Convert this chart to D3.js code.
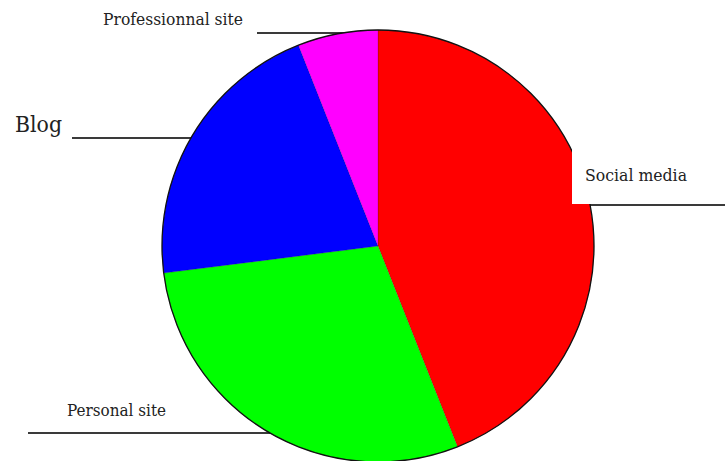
<!DOCTYPE html>
<html>
<head>
<meta charset="utf-8">
<script src="https://cdn.jsdelivr.net/npm/d3@7"></script>
<style>
  html, body { margin: 0; padding: 0; background: #fff; }
  svg { display: block; }
</style>
</head>
<body>
<svg id="chart" width="725" height="461"></svg>
<script>
// Share of sources, clockwise from twelve o'clock
const categories = ["Social media", "Personal site", "Blog", "Professionnal site"];
const shares = [44, 29, 21, 6];
const sliceColors = ["#ff0000", "#00ff00", "#0000ff", "#ff00ff"];

const width = 725, height = 461;
const cx = 378, cy = 246, radius = 216;

const svg = d3.select("#chart");

// Callout placement for each label: text anchor point, text width, font size, leader line
const callouts = {
  "Social media":       { tx: 585, ty: 181, tw: 102, fs: 16, line: [590, 205, 725, 205], mask: [572, 148, 128, 56] },
  "Personal site":      { tx: 67,  ty: 416, tw: 99,  fs: 16, line: [28, 433, 300, 433] },
  "Blog":               { tx: 15,  ty: 132, tw: 47,  fs: 23, line: [72, 138, 230, 138] },
  "Professionnal site": { tx: 103, ty: 25,  tw: 140, fs: 16, line: [257, 33, 378, 33] }
};

const data = categories.map((c, i) => ({ name: c, value: shares[i], color: sliceColors[i] }));

// Leader lines sit behind the pie so that the pie edge clips them
svg.append("g").selectAll("line")
  .data(data)
  .join("line")
  .attr("x1", d => callouts[d.name].line[0])
  .attr("y1", d => callouts[d.name].line[1])
  .attr("x2", d => callouts[d.name].line[2])
  .attr("y2", d => callouts[d.name].line[3])
  .attr("stroke", "#3a3a3a")
  .attr("stroke-width", 2);

const pie = d3.pie().sort(null).value(d => d.value).startAngle(0).endAngle(2 * Math.PI);
const arc = d3.arc().innerRadius(0).outerRadius(radius);

const g = svg.append("g").attr("transform", `translate(${cx},${cy})`);

g.selectAll("path.slice")
  .data(pie(data))
  .join("path")
  .attr("class", "slice")
  .attr("d", arc)
  .attr("fill", d => d.data.color)
  .attr("stroke", "#000")
  .attr("stroke-opacity", 0.25)
  .attr("stroke-width", 0.6);

// Outline of the pie
g.append("circle")
  .attr("r", radius)
  .attr("fill", "none")
  .attr("stroke", "#111")
  .attr("stroke-width", 1.3);

// Opaque label boxes (only where the label overlaps the pie)
svg.append("g").selectAll("rect")
  .data(data.filter(d => callouts[d.name].mask))
  .join("rect")
  .attr("x", d => callouts[d.name].mask[0])
  .attr("y", d => callouts[d.name].mask[1])
  .attr("width", d => callouts[d.name].mask[2])
  .attr("height", d => callouts[d.name].mask[3])
  .attr("fill", "#fff");

// Category labels
svg.append("g").selectAll("text")
  .data(data)
  .join("text")
  .attr("x", d => callouts[d.name].tx)
  .attr("y", d => callouts[d.name].ty)
  .attr("textLength", d => callouts[d.name].tw)
  .attr("lengthAdjust", "spacingAndGlyphs")
  .attr("font-family", "'DejaVu Serif', 'Liberation Serif', serif")
  .attr("font-size", d => callouts[d.name].fs)
  .attr("fill", "#222")
  .text(d => d.name);
</script>
</body>
</html>
